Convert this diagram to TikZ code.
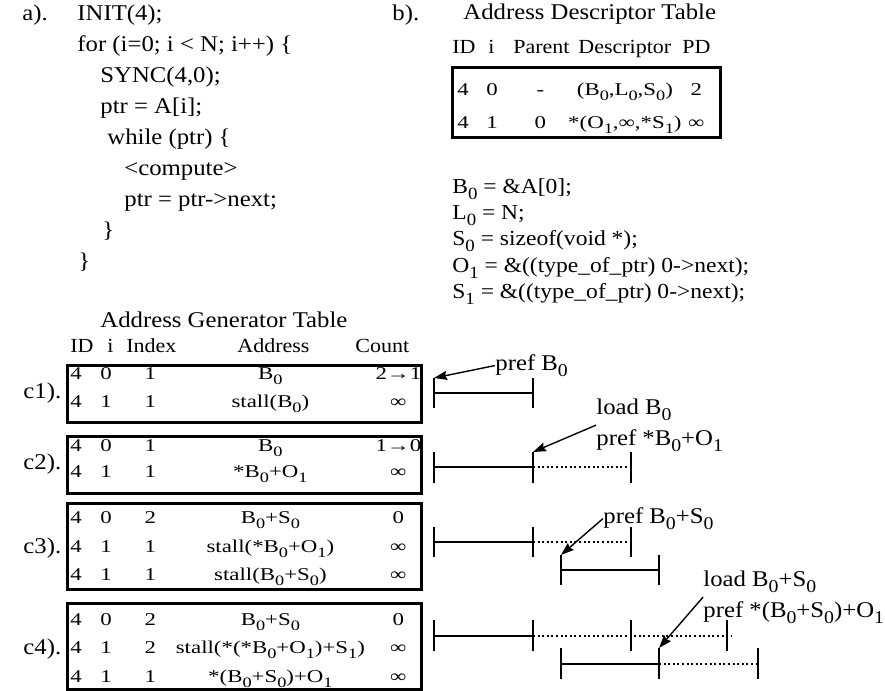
\documentclass[tikz,border=0pt]{standalone}
\usepackage{fontspec}
\setmainfont{Liberation Serif}
\newfontfamily\widefont[FakeStretch=1.1]{Liberation Serif}
\newfontfamily\tabfont[FakeStretch=1.27]{Liberation Serif}
\usetikzlibrary{arrows.meta, positioning}

\newcommand{\subsc}[1]{\raisebox{-0.3em}{\scalebox{0.8}{#1}}}
% one row of a table: fixed column boxes
\newcommand{\genrow}[5]{\makebox[15pt][l]{#1}\makebox[14pt][l]{#2}\makebox[22pt]{#3}\makebox[98pt]{#4}\makebox[30pt]{#5}}
\newcommand{\descrow}[5]{\makebox[14.5pt][l]{#1}\makebox[12pt][l]{#2}\makebox[30pt]{#3}\makebox[54.5pt]{#4}\makebox[17pt]{#5}}

\begin{document}
\begin{tikzpicture}[
    x=0.5pt, y=-0.5pt,
    every node/.style={inner sep=0pt, anchor=base west, font=\widefont\fontsize{11.25}{14}\selectfont},
    title/.style={font=\widefont\fontsize{11.25}{14}\selectfont},
    hdr/.style={font=\widefont\fontsize{10}{12}\selectfont},
    cell/.style={font=\tabfont\fontsize{9}{11}\selectfont},
    eqn/.style={font=\widefont\fontsize{10.7}{13}\selectfont},
    note/.style={font=\widefont\fontsize{11.25}{15.5}\selectfont, align=left},
    tbox/.style={draw, line width=1.5pt},
    seg/.style={line width=1.3pt},
    wait/.style={line width=1.1pt, dash pattern=on 1pt off 1.3pt},
    tick/.style={line width=1.3pt},
    callout/.style={
        -{Stealth[length=6.5pt, width=4.5pt, inset=0.8pt]},
        line width=0.7pt
    }
]
\useasboundingbox (0,0) rectangle (885,691);

% a) the loop
\node (a) at (22,20) {a).};
\foreach \x/\y/\txt [count=\k] in {
    77/20/{INIT(4);},
    77/51/{for (i=0; i < N; i++) \{},
    100/82/{SYNC(4,0);},
    100/113/{ptr = A[i];},
    107/144/{while (ptr) \{},
    124/175/{<compute>},
    124/206/{ptr = ptr->next;},
    102/237/{\}},
    78/268/{\}}}
    \node (code\k) at (\x,\y) {\txt};

% b) descriptor table
\node (b) at (392,20) {b).};
\node (dtitle) [title] at (463,19) {Address Descriptor Table};
\node (dhead) [hdr] at (452,53) {\makebox[18pt][l]{ID}\makebox[12.5pt][l]{i}\makebox[32.5pt][l]{Parent}\makebox[52pt][l]{Descriptor}PD};
\draw[tbox] (452,67) rectangle (720,137);
\node (d1) [cell] at (457,95) {\descrow{4}{0}{-}{(B\subsc0,L\subsc0,S\subsc0)}{2}};
\node (d2) [cell] at (457,128) {\descrow{4}{1}{0}{*(O\subsc1,∞,*S\subsc1)}{∞}};

\foreach \y/\txt [count=\k] in {
    193/{B\subsc0 = \&A[0];},
    219/{L\subsc0 = N;},
    245/{S\subsc0 = sizeof(void *);},
    272/{O\subsc1 = \&((type\_of\_ptr) 0->next);},
    298/{S\subsc1 = \&((type\_of\_ptr) 0->next);}}
    \node (eq\k) [eqn] at (452,\y) {\txt};

% c) generator table
\node (gtitle) [title] at (100,327) {Address Generator Table};
\node (ghead) [hdr] at (70,352) {\makebox[18.5pt][l]{ID}\makebox[9.5pt][l]{i}\makebox[55.5pt][l]{Index}\makebox[59pt][l]{Address}Count};
\foreach \y/\c in {398/1, 469/2, 553/3, 654/4}
    \node (c\c) at (23,\y) {c\c).};
\foreach \t/\b in {365/422, 436/493, 503/589, 603/689}
    \draw[tbox] (67,\t) rectangle (421,\b);
\foreach \nm/\y/\row in {
    g11/379/{\genrow{4}{0}{1}{B\subsc0}{2→1}},
    g12/407/{\genrow{4}{1}{1}{stall(B\subsc0)}{∞}},
    g21/451/{\genrow{4}{0}{1}{B\subsc0}{1→0}},
    g22/477/{\genrow{4}{1}{1}{*B\subsc0+O\subsc1}{∞}},
    g31/523/{\genrow{4}{0}{2}{B\subsc0+S\subsc0}{0}},
    g32/552/{\genrow{4}{1}{1}{stall(*B\subsc0+O\subsc1)}{∞}},
    g33/580/{\genrow{4}{1}{1}{stall(B\subsc0+S\subsc0)}{∞}},
    g41/625/{\genrow{4}{0}{2}{B\subsc0+S\subsc0}{0}},
    g42/653/{\genrow{4}{1}{2}{stall(*(*B\subsc0+O\subsc1)+S\subsc1)}{∞}},
    g43/682/{\genrow{4}{1}{1}{*(B\subsc0+S\subsc0)+O\subsc1}{∞}}}
    \node (\nm) [cell] at (70,\y) {\row};

% timelines
\draw[seg] (434,393) -- (533,393);
\foreach \x in {434,533} \draw[tick] (\x,378) -- (\x,408);
\coordinate (p1) at (434,378);

\draw[seg] (434,467) -- (533,467);
\draw[wait] (533,467) -- (631,467);
\foreach \x in {434,533,631} \draw[tick] (\x,452) -- (\x,483);
\coordinate (p2) at (533,452);

\draw[seg] (434,542) -- (533,542);
\draw[wait] (533,542) -- (631,542);
\foreach \x in {434,533,631} \draw[tick] (\x,527) -- (\x,557);
\draw[seg] (561,570) -- (659,570);
\foreach \x in {561,659} \draw[tick] (\x,555) -- (\x,585);
\coordinate (p3) at (561,555);

\draw[seg] (434,636) -- (533,636);
\draw[wait] (533,636) -- (732,636);
\foreach \x in {434,533,631,727} \draw[tick] (\x,620) -- (\x,651);
\draw[seg] (561,664) -- (659,664);
\draw[wait] (659,664) -- (758,664);
\foreach \x in {561,659,758} \draw[tick] (\x,648) -- (\x,679);
\coordinate (p4) at (659,648);

% labels and arrows
\node (lp1) [title] at (495,370) {pref B\subsc0};
\node (ll2) [note] at (596,445) {load B\subsc0\\pref *B\subsc0+O\subsc1};
\node (lp3) [title] at (603,523) {pref B\subsc0+S\subsc0};
\node (ll4) [note] at (703,617) {load B\subsc0+S\subsc0\\pref *(B\subsc0+S\subsc0)+O\subsc1};

\draw[callout] (lp1.west) -- (p1);
\draw[callout] (ll2.west) -- (p2);
\draw[callout] (lp3.west) -- (p3);
\draw[callout] (ll4.west) -- (p4);

\end{tikzpicture}
\end{document}
